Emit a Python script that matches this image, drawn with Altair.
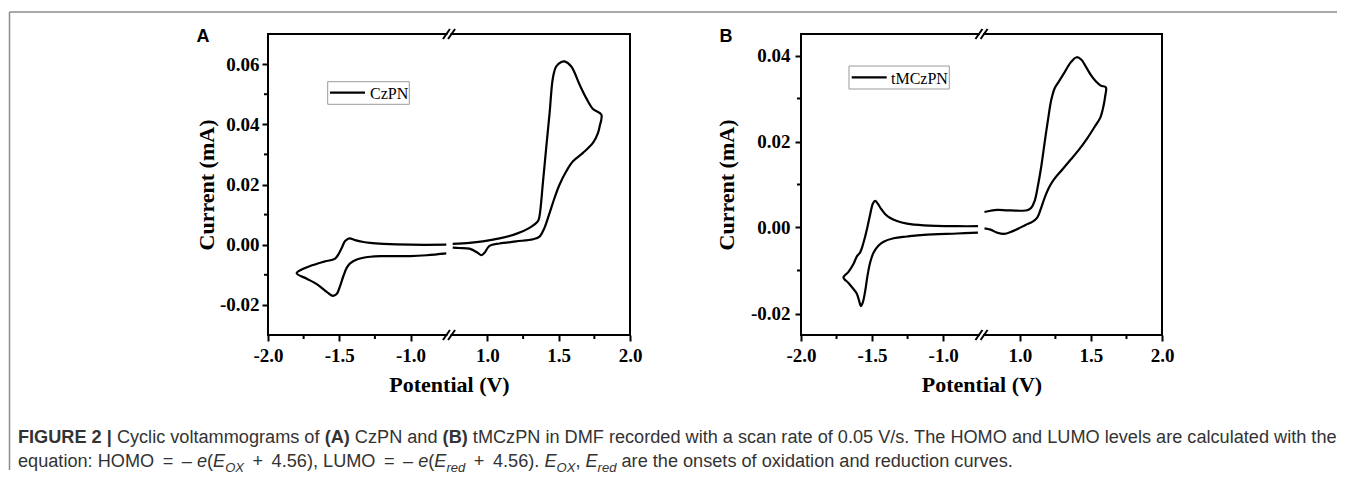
import altair as alt
import pandas as pd

# ---------------- data ----------------
# Panel A (CzPN): left loop (reduction region) and right loop (oxidation region)
A_LEFT_V = [-0.749, -1.002, -1.190, -1.283, -1.330, -1.389, -1.429, -1.459, -1.482, -1.506,
            -1.529, -1.611, -1.705, -1.752, -1.799, -1.728, -1.658, -1.588, -1.546, -1.518,
            -1.494, -1.471, -1.447, -1.424, -1.377, -1.283, -1.190, -1.002, -0.885, -0.749]
A_LEFT_I = [0.0000, 0.0000, 0.0003, 0.0006, 0.0009, 0.0015, 0.0021, 0.0012, -0.0010, -0.0032,
            -0.0046, -0.0057, -0.0071, -0.0080, -0.0095, -0.0113, -0.0131, -0.0157, -0.0170, -0.0164,
            -0.0137, -0.0104, -0.0076, -0.0062, -0.0049, -0.0040, -0.0038, -0.0038, -0.0035, -0.0029]
A_RIGHT_V = [0.756, 0.874, 0.967, 1.084, 1.201, 1.295, 1.354, 1.365, 1.389, 1.412,
             1.436, 1.459, 1.482, 1.518, 1.541, 1.588, 1.646, 1.693, 1.740, 1.799,
             1.787, 1.775, 1.740, 1.670, 1.600, 1.553, 1.506, 1.471, 1.436, 1.400,
             1.365, 1.319, 1.201, 1.084, 1.014, 0.979, 0.956, 0.932, 0.874, 0.803, 0.756]
A_RIGHT_I = [0.0003, 0.0006, 0.0011, 0.0021, 0.0036, 0.0056, 0.0078, 0.0095, 0.0206, 0.0322,
             0.0438, 0.0554, 0.0592, 0.0607, 0.0609, 0.0592, 0.0532, 0.0487, 0.0451, 0.0432,
             0.0393, 0.0371, 0.0338, 0.0305, 0.0277, 0.0244, 0.0200, 0.0156, 0.0106, 0.0056,
             0.0027, 0.0018, 0.0011, 0.0004, -0.0004, -0.0027, -0.0035, -0.0027, -0.0013, -0.0011, -0.0010]

# Panel B (tMCzPN)
B_LEFT_V = [-0.755, -0.901, -1.136, -1.254, -1.325, -1.372, -1.407, -1.438, -1.461, -1.478,
            -1.494, -1.513, -1.536, -1.560, -1.584, -1.607, -1.631, -1.666, -1.701,
            -1.666, -1.631, -1.607, -1.588, -1.579, -1.565, -1.548, -1.532, -1.513, -1.489,
            -1.454, -1.419, -1.348, -1.254, -1.136, -0.901, -0.755]
B_LEFT_I = [0.0003, 0.0003, 0.0005, 0.0009, 0.0015, 0.0022, 0.0031, 0.0044, 0.0056, 0.0062,
            0.0056, 0.0031, -0.0004, -0.0035, -0.0058, -0.0067, -0.0085, -0.0103, -0.0116,
            -0.0129, -0.0143, -0.0154, -0.0174, -0.0183, -0.0174, -0.0147, -0.0112, -0.0081, -0.0058,
            -0.0042, -0.0033, -0.0025, -0.0021, -0.0017, -0.0014, -0.0012]
B_RIGHT_V = [0.751, 0.793, 0.840, 0.911, 1.005, 1.052, 1.080, 1.104, 1.127, 1.151,
             1.174, 1.198, 1.221, 1.245, 1.275, 1.311, 1.358, 1.400, 1.433, 1.464,
             1.499, 1.534, 1.569, 1.605,
             1.600, 1.588, 1.565, 1.522, 1.475, 1.416, 1.358, 1.299, 1.240, 1.205,
             1.174, 1.146, 1.122, 1.087, 1.040, 0.993, 0.946, 0.887, 0.840, 0.793, 0.751]
B_RIGHT_I = [0.0036, 0.0039, 0.0041, 0.0040, 0.0039, 0.0040, 0.0046, 0.0062, 0.0097, 0.0143,
             0.0197, 0.0251, 0.0297, 0.0324, 0.0340, 0.0359, 0.0384, 0.0396, 0.0390, 0.0374,
             0.0355, 0.0340, 0.0330, 0.0326,
             0.0305, 0.0282, 0.0255, 0.0232, 0.0208, 0.0181, 0.0158, 0.0135, 0.0112, 0.0093,
             0.0069, 0.0042, 0.0023, 0.0013, 0.0006, -0.0002, -0.0009, -0.0015, -0.0012, -0.0005, -0.0002]

SERIES_A = "CzPN"
SERIES_B = "tMCzPN"
LETTER_A = "A"
LETTER_B = "B"
X_TICKS = [-2.0, -1.5, -1.0, 1.0, 1.5, 2.0]
X_MINOR = [-1.75, -1.25, 1.25, 1.75]
A_Y_TICKS = [-0.02, 0.0, 0.02, 0.04, 0.06]
A_Y_MINOR = [-0.01, 0.01, 0.03, 0.05]
A_Y_DOMAIN = [-0.03, 0.07]
B_Y_TICKS = [-0.02, 0.0, 0.02, 0.04]
B_Y_MINOR = [-0.01, 0.01, 0.03]
B_Y_DOMAIN = [-0.025, 0.045]
X_TITLE = "Potential (V)"
Y_TITLE = "Current (mA)"

CAPTION_1 = [("FIGURE 2 |", "b"), (" Cyclic voltammograms of ", "n"), ("(A)", "b"),
             (" CzPN and ", "n"), ("(B)", "b"),
             (" tMCzPN in DMF recorded with a scan rate of 0.05 V/s. The HOMO and LUMO levels are calculated with the", "n")]
CAPTION_2 = [("equation: HOMO ", "n"), ("=", "op"), (" \u2013 ", "n"), ("e", "i"), ("(", "n"),
             ("E", "i"), ("OX", "sub"), (" ", "n"), ("+", "op"), (" 4.56), LUMO ", "n"), ("=", "op"),
             (" \u2013 ", "n"), ("e", "i"), ("(", "n"), ("E", "i"), ("red", "sub"), (" ", "n"),
             ("+", "op"), (" 4.56). ", "n"), ("E", "i"), ("OX", "sub"), (", ", "n"), ("E", "i"),
             ("red", "sub"), (" are the onsets of oxidation and reduction curves.", "n")]

# ---------------- broken x axis mapping ----------------
SHIFT = 1.46          # right segment (0.75..2.0 V) is drawn next to the left one (-2.0..-0.75 V)
X_DOMAIN = [-2.0, 2.0 - SHIFT]
BREAK_C = [-0.748, -0.712]   # the two slashes of the break marks
SLASH_DX = 0.0245


def disp(v):
    return v if v < 0 else v - SHIFT


H = 301

# ---------------- caption text metrics (Arial / Liberation Sans) ----------------
W_REG = {' ': 278, '.': 278, ',': 278, ':': 278, '(': 333, ')': 333, '|': 260, '/': 278,
         '=': 584, '+': 584, '\u2013': 556}
for ch in "0123456789":
    W_REG[ch] = 556
W_REG.update(dict(zip("ABCDEFGHIJKLMNOPQRSTUVWXYZ",
                      [667, 667, 722, 722, 667, 611, 778, 722, 278, 500, 667, 556, 833, 722, 778,
                       667, 778, 722, 667, 611, 722, 667, 944, 667, 667, 611])))
W_REG.update(dict(zip("abcdefghijklmnopqrstuvwxyz",
                      [556, 556, 500, 556, 556, 278, 556, 556, 222, 222, 500, 222, 833, 556, 556,
                       556, 556, 333, 500, 278, 556, 500, 722, 500, 500, 500])))
W_BOLD = dict(W_REG)
W_BOLD.update({'A': 722, 'B': 722, '|': 280, 'R': 722, 'U': 722})

OP_GAP = 0.19   # extra math spacing (em) on each side of = and +


def text_w(s, bold):
    tbl = W_BOLD if bold else W_REG
    return sum(tbl.get(c, 556) for c in s) / 1000.0


def caption_layers(segments, x0, y0, fs, color):
    out = []
    cur = x0
    for txt, kind in segments:
        size = fs * 0.72 if kind == "sub" else fs
        bold = kind == "b"
        if kind == "op":
            cur += OP_GAP * fs
        lead = len(txt) - len(txt.lstrip(" "))
        x = cur + lead * 0.278 * size
        s = txt.strip()
        if s:
            props = dict(align="left", baseline="alphabetic", font="Liberation Sans",
                         fontSize=size, color=color)
            if bold:
                props["fontWeight"] = "bold"
            if kind in ("i", "sub"):
                props["fontStyle"] = "italic"
            yy = y0 + (4.5 if kind == "sub" else 0)
            out.append(alt.Chart(pd.DataFrame({"t": [s]})).mark_text(**props).encode(
                x=alt.value(x), y=alt.value(yy), text="t:N"))
        cur += text_w(txt, bold) * size
        if kind == "op":
            cur += OP_GAP * fs
    return out


def panel(lv, li, rv, ri, ydom, yticks, yminor, W, series, legend_box, letter, letter_xy,
          ytitle_x, ylab_pad, extra=None):
    rows = []
    for seg, vs, cs in (("L", lv, li), ("R", rv, ri)):
        for k, (v, c) in enumerate(zip(vs, cs)):
            rows.append({"seg": seg, "k": k, "V": v, "I": c, "d": disp(v)})
    df = pd.DataFrame(rows)

    xs = alt.Scale(domain=X_DOMAIN, nice=False, zero=False)
    ys = alt.Scale(domain=ydom, nice=False, zero=False)

    xaxis = alt.Axis(
        orient="bottom",
        values=[disp(t) for t in X_TICKS],
        labelExpr="datum.value < -0.6 ? (datum.value < 0 ? '-' : '') + format(abs(datum.value), '.1f') : format(datum.value + %s, '.1f')" % SHIFT,
        domain=False, grid=False, ticks=True, tickSize=6, tickWidth=2, tickColor="black",
        labelFont="Liberation Serif", labelFontWeight="bold", labelFontSize=19, labelColor="black",
        labelPadding=5, labelFlush=False, labelOverlap=False,
        title=X_TITLE, titleFont="Liberation Serif", titleFontWeight="bold", titleFontSize=22,
        titleColor="black", titleY=56, titleBaseline="alphabetic")
    yaxis = alt.Axis(
        orient="left",
        values=yticks,
        labelExpr="(datum.value < -0.0001 ? '-' : '') + format(abs(datum.value), '.2f')",
        domain=False, grid=False, ticks=True, tickSize=6, tickWidth=2, tickColor="black",
        labelFont="Liberation Serif", labelFontWeight="bold", labelFontSize=19, labelColor="black",
        labelPadding=ylab_pad, labelFlush=False, labelOverlap=False,
        title=Y_TITLE, titleFont="Liberation Serif", titleFontWeight="bold", titleFontSize=22,
        titleColor="black", titleX=ytitle_x, titleY=H / 2, titleBaseline="middle")

    curve = alt.Chart(df).mark_line(color="black", strokeWidth=2.2, interpolate="catmull-rom").encode(
        x=alt.X("d:Q", scale=xs, axis=xaxis),
        y=alt.Y("I:Q", scale=ys, axis=yaxis),
        detail="seg:N", order="k:Q")

    # frame (box) with a gap at the axis break
    seg_df = pd.DataFrame({"xs": [X_DOMAIN[0], BREAK_C[1]], "xe": [BREAK_C[0], X_DOMAIN[1]]})
    frame_top = alt.Chart(seg_df).mark_rule(color="black", strokeWidth=2, strokeCap="square").encode(
        x=alt.X("xs:Q", scale=xs, axis=None), x2="xe:Q", y=alt.value(0))
    frame_bot = alt.Chart(seg_df).mark_rule(color="black", strokeWidth=2, strokeCap="square").encode(
        x=alt.X("xs:Q", scale=xs, axis=None), x2="xe:Q", y=alt.value(H))
    one = pd.DataFrame({"o": [0]})
    frame_l = alt.Chart(one).mark_rule(color="black", strokeWidth=2, strokeCap="square").encode(
        x=alt.value(0), y=alt.value(0), y2=alt.value(H))
    frame_r = alt.Chart(one).mark_rule(color="black", strokeWidth=2, strokeCap="square").encode(
        x=alt.value(W), y=alt.value(0), y2=alt.value(H))

    sl_df = pd.DataFrame({"a": [c - SLASH_DX for c in BREAK_C], "b": [c + SLASH_DX for c in BREAK_C]})
    slash_top = alt.Chart(sl_df).mark_rule(color="black", strokeWidth=2).encode(
        x=alt.X("a:Q", scale=xs, axis=None), x2="b:Q", y=alt.value(5), y2=alt.value(-5))
    slash_bot = alt.Chart(sl_df).mark_rule(color="black", strokeWidth=2).encode(
        x=alt.X("a:Q", scale=xs, axis=None), x2="b:Q", y=alt.value(H + 5), y2=alt.value(H - 5))

    # minor ticks
    mx = pd.DataFrame({"m": [disp(v) for v in X_MINOR]})
    minor_x = alt.Chart(mx).mark_rule(color="black", strokeWidth=2).encode(
        x=alt.X("m:Q", scale=xs, axis=None), y=alt.value(H), y2=alt.value(H + 4))
    my = pd.DataFrame({"m": yminor})
    minor_y = alt.Chart(my).mark_rule(color="black", strokeWidth=2).encode(
        y=alt.Y("m:Q", scale=ys, axis=None), x=alt.value(0), x2=alt.value(-4))

    # legend
    bx0, bx1, by0, by1, lx0, lx1, ly, tx, ty = legend_box
    leg_box = alt.Chart(one).mark_rect(fill="white", stroke="#9a9a9a", strokeWidth=1).encode(
        x=alt.value(bx0), x2=alt.value(bx1), y=alt.value(by0), y2=alt.value(by1))
    leg_line = alt.Chart(one).mark_rule(color="black", strokeWidth=2.2).encode(
        x=alt.value(lx0), x2=alt.value(lx1), y=alt.value(ly))
    leg_text = alt.Chart(pd.DataFrame({"s": [series]})).mark_text(
        align="left", baseline="middle", font="Liberation Serif", fontSize=16, color="black").encode(
        x=alt.value(tx), y=alt.value(ty), text="s:N")

    letter_t = alt.Chart(pd.DataFrame({"s": [letter]})).mark_text(
        align="center", baseline="middle", font="Liberation Sans", fontWeight="bold",
        fontSize=18, color="black").encode(
        x=alt.value(letter_xy[0]), y=alt.value(letter_xy[1]), text="s:N")

    layers = [curve, frame_top, frame_bot, frame_l, frame_r, slash_top, slash_bot,
              minor_x, minor_y, leg_box, leg_line, leg_text, letter_t]
    if extra:
        layers += extra
    return alt.layer(*layers).resolve_axis(x="independent", y="independent").properties(width=W, height=H)


# ---------------- outer figure frame and caption (drawn within panel A's coordinates) ----------------
one_row = pd.DataFrame({"o": [0]})
fig_frame_left = alt.Chart(one_row).mark_rule(color="#8c8c8c", strokeWidth=1.5).encode(
    x=alt.value(-258.5), y=alt.value(-22), y2=alt.value(436))
fig_frame_top = alt.Chart(one_row).mark_rule(color="#8c8c8c", strokeWidth=1.5).encode(
    x=alt.value(-258.5), x2=alt.value(1069), y=alt.value(-22))

CAP_FS = 18.15
extra_a = [fig_frame_left, fig_frame_top]
extra_a += caption_layers(CAPTION_1, -250, 409, CAP_FS, "#333333")
extra_a += caption_layers(CAPTION_2, -250, 433, CAP_FS, "#333333")

panel_a = panel(A_LEFT_V, A_LEFT_I, A_RIGHT_V, A_RIGHT_I, A_Y_DOMAIN, A_Y_TICKS, A_Y_MINOR, 362,
                SERIES_A, (59.7, 141.3, 47.7, 70.3, 62, 97, 58.7, 102, 60), LETTER_A, (-65, 3),
                -62, 3, extra=extra_a)
panel_b = panel(B_LEFT_V, B_LEFT_I, B_RIGHT_V, B_RIGHT_I, B_Y_DOMAIN, B_Y_TICKS, B_Y_MINOR, 361,
                SERIES_B, (48, 148.3, 32, 55, 50.7, 85.7, 43.3, 90, 44.5), LETTER_B, (-75, 3),
                -74.5, 5)

chart = alt.hconcat(panel_a, panel_b, spacing=171, bounds="flush").properties(
    padding={"left": 0, "top": 2, "right": 0, "bottom": 0}
).configure_view(stroke="transparent")

chart.save("out.html", embed_options={"renderer": "svg", "actions": False})
